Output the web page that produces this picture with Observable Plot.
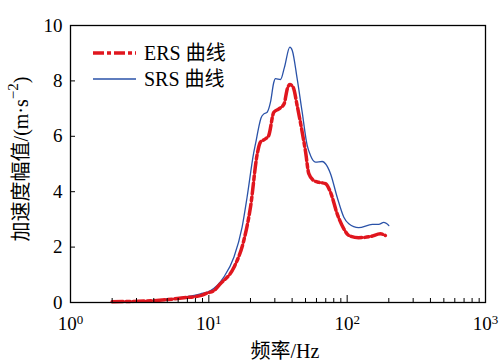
<!DOCTYPE html>
<html>
<head>
<meta charset="utf-8">
<script src="https://cdn.jsdelivr.net/npm/d3@7"></script>
<script src="https://cdn.jsdelivr.net/npm/@observablehq/plot@0.6"></script>
<style>
  html, body { margin: 0; padding: 0; background: #fff; }
  svg text { font-family: "Liberation Serif", "Noto Sans CJK SC", serif; }
</style>
</head>
<body>
<div id="chart"></div>
<script>
// ---- data ----
const srsFreq = [2.0, 3.8, 6.6, 8.7, 10.3, 12.8, 15.2, 17.4, 18.9, 21.1, 21.8, 23.0, 23.8, 25.0, 26.4, 27.9, 29.5, 30.3, 33.0, 35.2, 38.5, 40.1, 43.5, 47.3, 51.4, 54.3, 59.0, 66.0, 69.7, 75.8, 84.7, 94.6, 102.8, 121, 152, 169, 184, 200];
const srsAcc  = [0.02, 0.07, 0.19, 0.31, 0.43, 0.91, 1.64, 2.72, 3.80, 5.40, 5.75, 6.35, 6.65, 6.81, 6.87, 7.23, 7.95, 8.08, 8.05, 8.49, 9.22, 9.10, 8.08, 6.87, 5.67, 5.31, 5.07, 5.09, 5.01, 4.65, 3.80, 3.08, 2.84, 2.70, 2.82, 2.82, 2.89, 2.78];

const ersFreq = [2.0, 3.8, 6.6, 8.7, 9.7, 10.9, 12.1, 15.2, 17.9, 20.0, 22.4, 23.6, 25.7, 27.1, 29.5, 32.1, 35.0, 36.9, 38.5, 40.7, 43.5, 47.3, 50.0, 52.8, 57.4, 62.4, 69.7, 75.8, 84.7, 94.6, 102.8, 121, 147, 174, 189];
const ersAcc  = [0.03, 0.06, 0.17, 0.25, 0.34, 0.43, 0.67, 1.27, 2.24, 3.44, 5.37, 5.79, 5.91, 6.03, 6.87, 6.99, 7.17, 7.71, 7.87, 7.77, 7.11, 6.15, 5.45, 4.65, 4.40, 4.34, 4.29, 3.98, 3.20, 2.66, 2.42, 2.34, 2.38, 2.48, 2.42];

const xMajor = [1, 10, 100, 1000];
const xMinor = [2, 3, 4, 5, 6, 7, 8, 9, 20, 30, 40, 50, 60, 70, 80, 90, 200, 300, 400, 500, 600, 700, 800, 900];
const yTicks = [0, 2, 4, 6, 8, 10];

const seriesNames = ["ERS 曲线", "SRS 曲线"];
const xLabel = "频率/Hz";
const yLabelMain = "加速度幅值/(m·s";
const yLabelSup = "−2";
const yLabelEnd = ")";

const RED = "#e0161e";
const BLUE = "#2a52a8";
const FONT = "'Liberation Serif', 'Noto Sans CJK SC', serif";

const srs = srsFreq.map((f, i) => ({f, a: srsAcc[i]}));
const ers = ersFreq.map((f, i) => ({f, a: ersAcc[i]}));

const chart = Plot.plot({
  width: 503,
  height: 363,
  marginLeft: 70,
  marginRight: 18,
  marginTop: 25,
  marginBottom: 61,
  style: {fontFamily: FONT, fontSize: "19px", color: "#000", background: "#fff"},
  x: {type: "log", domain: [1, 1000], label: null},
  y: {domain: [0, 10], label: null},
  marks: [
    Plot.line(srs, {x: "f", y: "a", stroke: BLUE, strokeWidth: 1.3, curve: "monotone-x"}),
    Plot.line(ers, {x: "f", y: "a", stroke: RED, strokeWidth: 3.5, strokeDasharray: "11,3,4,3", curve: "monotone-x"}),
    Plot.frame({stroke: "#000", strokeWidth: 1.3}),
    Plot.axisX({ticks: xMinor, tickSize: -4, tickFormat: () => "", label: null, strokeWidth: 1}),
    Plot.axisX({ticks: xMajor, tickSize: -7, tickFormat: () => "", label: null, strokeWidth: 1}),
    Plot.axisX({ticks: xMajor, tickSize: 0, tickPadding: 14, fontSize: 19, label: null,
      tickFormat: d => "e" + String(Math.round(Math.log10(d)))}),
    Plot.axisY({ticks: yTicks, tickSize: -5, tickFormat: () => "", label: null, strokeWidth: 1}),
    Plot.axisY({ticks: yTicks, tickSize: 0, tickPadding: 8, fontSize: 19, label: null})
  ]
});

document.getElementById("chart").appendChild(chart);

const svg = d3.select(chart);
svg.style("font-family", FONT);

// superscript exponents on the x tick labels
svg.selectAll('g[aria-label="x-axis tick label"] text').each(function() {
  const t = d3.select(this);
  const s = t.text();
  if (!s.startsWith("e")) return;
  const exp = s.slice(1);
  t.text("");
  t.append("tspan").text("10");
  t.append("tspan").attr("font-size", "13px").attr("dy", "-0.5em").text(exp);
});

// axis titles
svg.append("text")
  .attr("transform", "translate(21,159) rotate(-90)")
  .attr("text-anchor", "middle")
  .attr("dominant-baseline", "central")
  .attr("font-size", 20)
  .attr("fill", "#000")
  .call(t => {
    t.append("tspan").text(yLabelMain);
    t.append("tspan").attr("font-size", "15px").attr("dy", "-0.55em").text(yLabelSup);
    t.append("tspan").attr("dy", "0.4em").text(yLabelEnd);
  });

svg.append("text")
  .attr("x", 285).attr("y", 351)
  .attr("text-anchor", "middle")
  .attr("dominant-baseline", "central")
  .attr("font-size", 20)
  .attr("fill", "#000")
  .text(xLabel);

// legend
const leg = svg.append("g");
const legItems = [
  {name: seriesNames[0], color: RED, width: 3.5, dash: "11,3,4,3", y: 53},
  {name: seriesNames[1], color: BLUE, width: 1.3, dash: null, y: 79}
];
legItems.forEach(it => {
  leg.append("line")
    .attr("x1", 93).attr("x2", 136).attr("y1", it.y).attr("y2", it.y)
    .attr("stroke", it.color).attr("stroke-width", it.width)
    .attr("stroke-dasharray", it.dash);
  leg.append("text")
    .attr("x", 144).attr("y", it.y)
    .attr("text-anchor", "start")
    .attr("dominant-baseline", "central")
    .attr("font-size", 20)
    .attr("fill", "#000")
    .text(it.name);
});
</script>
</body>
</html>
